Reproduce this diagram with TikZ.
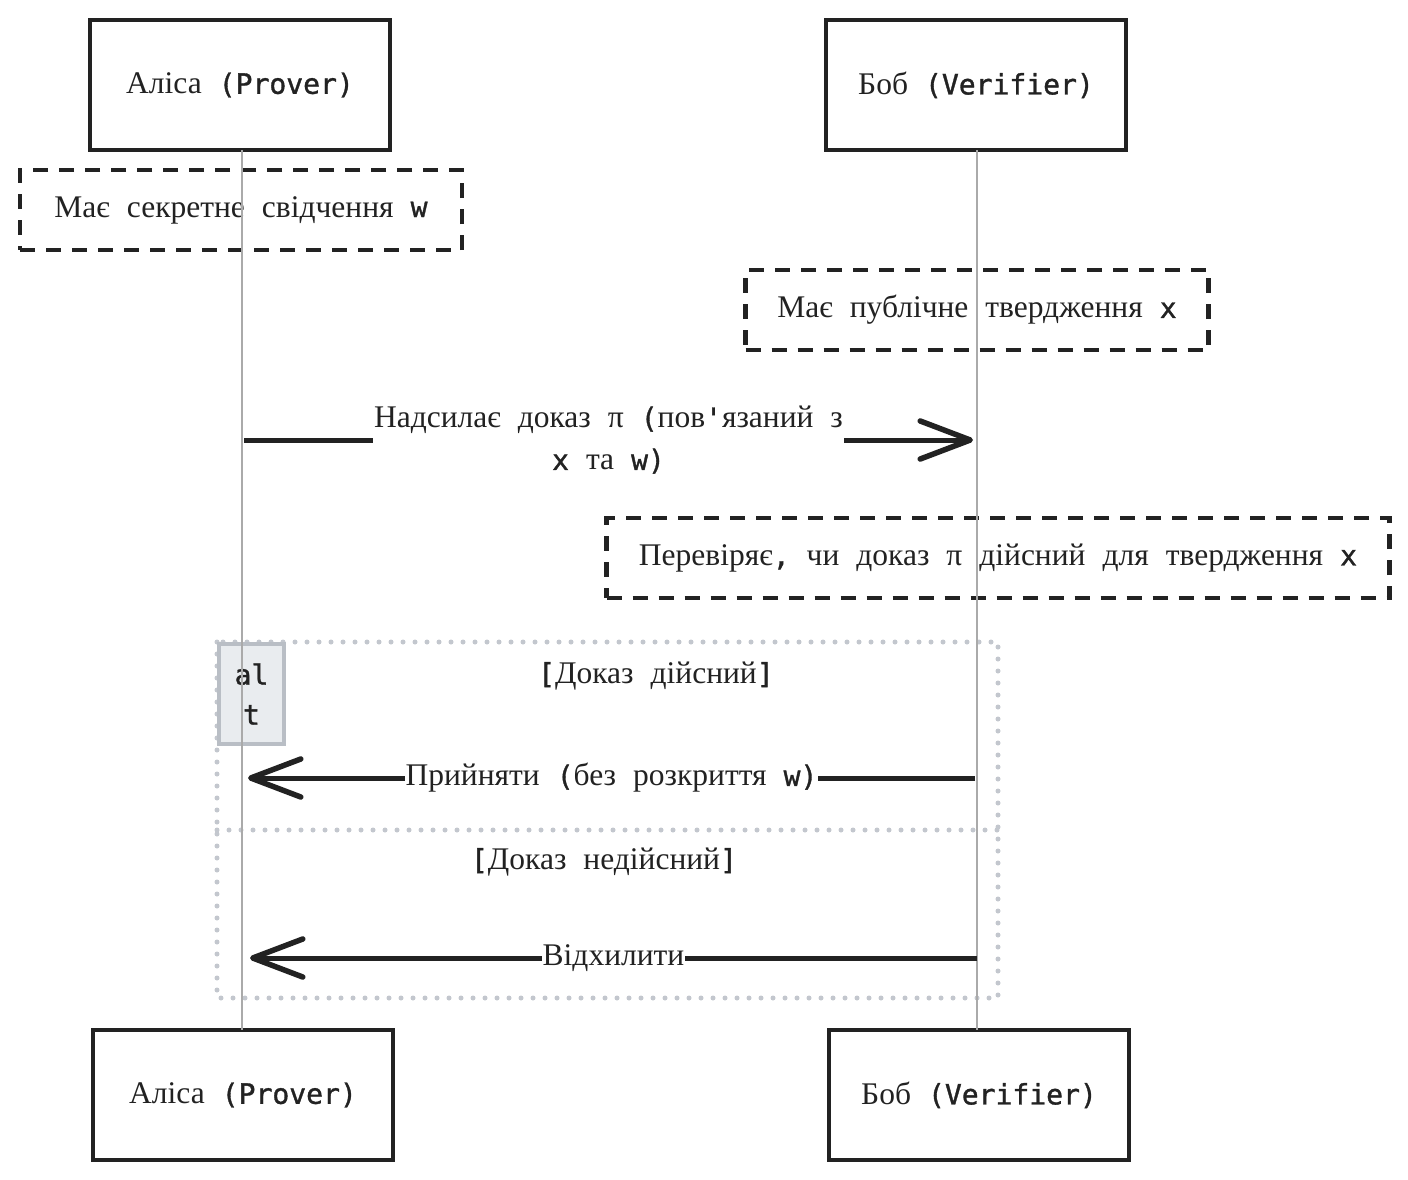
\documentclass[tikz,border=0pt]{standalone}
\usepackage{fontspec}
\setmainfont[WordSpace={2.16,0,0}]{Liberation Serif}
\setmonofont[Scale=0.89,FakeBold=1.2]{DejaVu Sans Mono}
\newcommand\tx[1]{{\ttfamily #1}}
\usetikzlibrary{arrows.meta}
\definecolor{ink}{HTML}{222222}
\definecolor{life}{HTML}{AAAAAA}
\definecolor{dotc}{HTML}{C3C7CE}
\definecolor{altfill}{HTML}{E9ECEF}
\definecolor{altdraw}{HTML}{B9BEC5}
\tikzset{
  txt/.style={font=\fontsize{31.5}{36}\selectfont,text=ink},
  actor/.style={txt,draw=ink,line width=3.6pt,fill=white,minimum width=300pt,minimum height=130pt},
  notebox/.style={txt,draw=ink,line width=4.2pt,dash pattern=on 15pt off 11pt,minimum height=80pt},
  lifeline/.style={draw=life,line width=1.8pt},
  msg/.style={draw=ink,line width=5pt,-{Straight Barb[length=50pt,width=38pt,line width=5.5pt,round]}},
  lbl/.style={txt,fill=white,inner xsep=1pt,inner ysep=1pt,align=center,font=\fontsize{31.5}{42}\selectfont},
  dotline/.style={draw=dotc,line width=5pt,dash pattern=on 0pt off 12pt,line cap=round},
  guard/.style={txt},
}
\begin{document}
\begin{tikzpicture}[x=1pt,y=-1pt]
\useasboundingbox[fill=white] (0,0) rectangle (1408,1180);
% actors
\node[actor] (aT) at (240,85) {Аліса \tx{(Prover)}};
\node[actor] (bT) at (976,85) {Боб \tx{(Verifier)}};
\node[actor] (aB) at (243,1095) {Аліса \tx{(Prover)}};
\node[actor] (bB) at (979,1095) {Боб \tx{(Verifier)}};
% notes
\node[notebox,minimum width=442pt] (n1) at (241,210) {Має секретне свідчення \tx{w}};
\node[notebox,minimum width=463pt] (n2) at (977,310) {Має публічне твердження \tx{x}};
\node[notebox,minimum width=783pt] (n3) at (998,558) {Перевіряє\tx{,} чи доказ π дійсний для твердження \tx{x}};
% alt frame
\coordinate (fTL) at (217,642);
\coordinate (fBR) at (998,998);
\coordinate (dL) at (217,830);
\coordinate (dR) at (998,830);
\draw[dotline] (fTL) rectangle (fBR);
\draw[dotline] (dL) -- (dR);
\node[draw=altdraw,fill=altfill,line width=4pt,minimum width=65pt,minimum height=100pt,anchor=north west,
  inner sep=0pt,align=center,font=\ttfamily\fontsize{31.5}{40}\selectfont,text=ink] (alt) at (fTL) {al\\t};
\node[guard] (g1) at (656,676) {\tx{[}Доказ дійсний\tx{]}};
\node[guard] (g2) at (604,862) {\tx{[}Доказ недійсний\tx{]}};
% lifelines
\coordinate (aL) at (242,150);
\coordinate (aL2) at (242,1030);
\coordinate (bL) at (977,150);
\coordinate (bL2) at (977,1030);
\draw[lifeline] (aL) -- (aL2);
\draw[lifeline] (bL) -- (bL2);
% messages
\coordinate (m1s) at (244,440);
\coordinate (m1e) at (973,440);
\draw[msg] (m1s) -- node[lbl] (l1) {Надсилає доказ π \tx{(}пов\tx{'}язаний з\\\tx{x} та \tx{w)}} (m1e);
\coordinate (m2s) at (975,778);
\coordinate (m2e) at (248,778);
\draw[msg] (m2s) -- node[lbl] (l2) {Прийняти \tx{(}без розкриття \tx{w)}} (m2e);
\coordinate (m3s) at (977,958);
\coordinate (m3e) at (250,958);
\draw[msg] (m3s) -- node[lbl] (l3) {Відхилити} (m3e);
\end{tikzpicture}
\end{document}
